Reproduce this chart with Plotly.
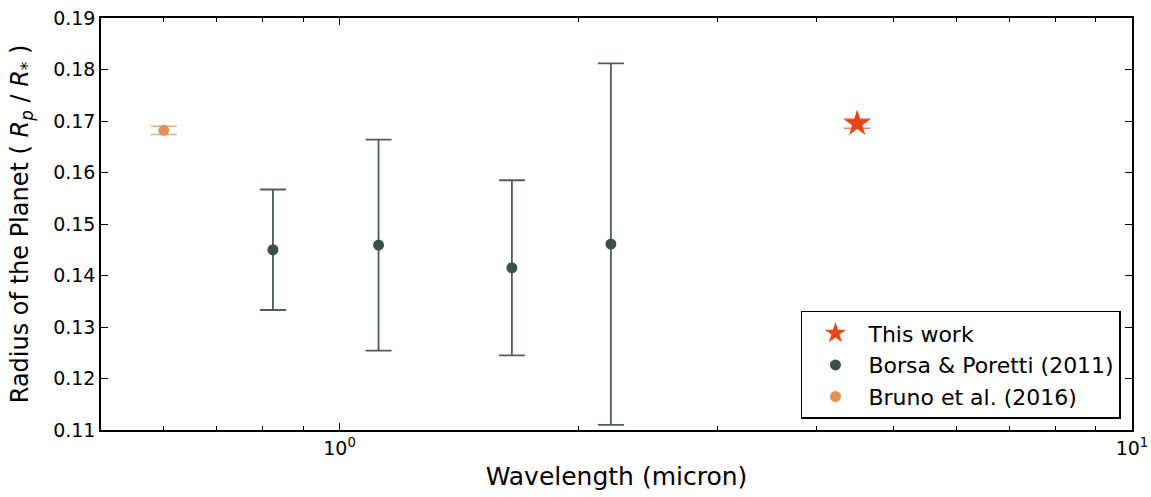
import plotly.graph_objects as go

# Data
this_work_x = [4.5]
this_work_y = [0.1695]
this_work_err = [0.0009]

borsa_x = [0.824, 1.12, 1.65, 2.20]
borsa_y = [0.1450, 0.1459, 0.1415, 0.1461]
borsa_err = [0.0117, 0.0205, 0.0170, 0.0351]

bruno_x = [0.60]
bruno_y = [0.1682]
bruno_err = [0.0008]

labels = ["This work", "Borsa & Poretti (2011)", "Bruno et al. (2016)"]

x_major = [1, 10]
x_major_text = ["10<sup>0</sup>", "10<sup>1</sup>"]
x_minor = [0.6, 0.7, 0.8, 0.9, 2, 3, 4, 5, 6, 7, 8, 9]
y_ticks = [0.11, 0.12, 0.13, 0.14, 0.15, 0.16, 0.17, 0.18, 0.19]

font = "DejaVu Sans"

fig = go.Figure()
fig.add_trace(go.Scatter(
    x=this_work_x, y=this_work_y, mode="markers", name=labels[0],
    marker=dict(symbol="star", size=20, color="#E84514", line=dict(width=0)),
    error_y=dict(type="data", array=this_work_err, color="rgba(232,69,20,0.65)",
                 thickness=1.5, width=13),
))
fig.add_trace(go.Scatter(
    x=borsa_x, y=borsa_y, mode="markers", name=labels[1],
    marker=dict(symbol="circle", size=11, color="#3B5148", line=dict(width=0)),
    error_y=dict(type="data", array=borsa_err, color="#4B5F58",
                 thickness=1.8, width=13),
))
fig.add_trace(go.Scatter(
    x=bruno_x, y=bruno_y, mode="markers", name=labels[2],
    marker=dict(symbol="circle", size=11, color="#E39150", line=dict(width=0)),
    error_y=dict(type="data", array=bruno_err, color="rgba(227,145,80,0.75)",
                 thickness=1.5, width=13),
))

fig.update_layout(
    width=1151, height=497,
    margin=dict(l=101, r=19, t=18, b=67, autoexpand=False),
    paper_bgcolor="white", plot_bgcolor="white",
    font=dict(family=font, color="black", size=19),
    showlegend=True,
    legend=dict(
        x=0.9893, y=0.0267, xanchor="right", yanchor="bottom",
        bordercolor="black", borderwidth=1.5, bgcolor="white",
        font=dict(family=font, size=22, color="black"),
        itemwidth=56, tracegroupgap=0,
    ),
)
fig.update_xaxes(
    type="log", range=[-0.30103, 1.0], automargin=False,
    tickmode="array", tickvals=x_major, ticktext=x_major_text,
    ticks="inside", ticklen=7, tickwidth=1, tickcolor="black",
    minor=dict(tickmode="array", tickvals=x_minor, ticks="inside", ticklen=4,
               tickwidth=1, tickcolor="black", showgrid=False),
    showline=True, linecolor="black", linewidth=1.5, mirror="allticks",
    showgrid=False, zeroline=False,
    tickfont=dict(size=19),
    title=dict(text="Wavelength (micron)", font=dict(size=25), standoff=10),
)
fig.update_yaxes(
    range=[0.11, 0.19], automargin=True,
    tickmode="array", tickvals=y_ticks, tickformat=".2f",
    ticks="inside", ticklen=7, tickwidth=1, tickcolor="black",
    showline=True, linecolor="black", linewidth=1.5, mirror="allticks",
    showgrid=False, zeroline=False,
    tickfont=dict(size=19),
    title=dict(text="Radius of the Planet ( <i>R<sub>p</sub></i> / <i>R</i><sub>*</sub> )",
               font=dict(size=24), standoff=18),
)

fig.write_html("out.html")
